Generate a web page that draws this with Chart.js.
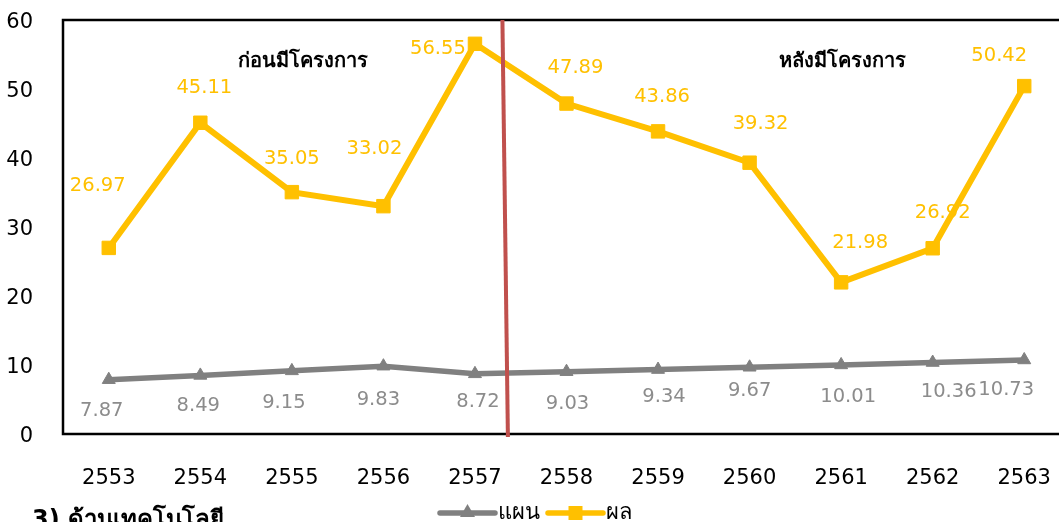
<!DOCTYPE html>
<html>
<head>
<meta charset="utf-8">
<script src="https://cdn.jsdelivr.net/npm/chart.js@4/dist/chart.umd.min.js"></script>
<style>
  html, body { margin: 0; padding: 0; background: #fff; overflow: hidden; width: 1059px; height: 522px; }
  #wrap { position: relative; width: 1080px; height: 522px; }
  canvas { display: block; }
  #caption { position: absolute; left: 32px; top: 505px; font: bold 24px "DejaVu Sans", "Noto Sans", sans-serif; color: #000; line-height: 28px; white-space: nowrap; }
</style>
</head>
<body>
<div id="wrap">
  <canvas id="c" width="1080" height="522"></canvas>
  <div id="caption">3) ด้านเทคโนโลยี</div>
</div>
<script>
const categories = ['2553','2554','2555','2556','2557','2558','2559','2560','2561','2562','2563'];
const planValues = [7.87, 8.49, 9.15, 9.83, 8.72, 9.03, 9.34, 9.67, 10.01, 10.36, 10.73];
const resultValues = [26.97, 45.11, 35.05, 33.02, 56.55, 47.89, 43.86, 39.32, 21.98, 26.92, 50.42];
const seriesNames = ['แผน', 'ผล'];
const periodNotes = ['ก่อนมีโครงการ', 'หลังมีโครงการ'];
const yTicks = [0, 10, 20, 30, 40, 50, 60];

// label offsets (style only), relative to each point
const planLabelOffsets = [[-7,31],[-2,31],[-8,32],[-5,34],[3,28],[1,32],[6,27],[0,24],[7,32],[16,29],[-18,30]];
const resultLabelOffsets = [[-11,-62],[4,-35],[0,-33],[-9,-57],[-37,5],[9,-36],[4,-34],[11,-39],[19,-39],[10,-35],[-25,-30]];

const FONT = '"DejaVu Sans", "Noto Sans", sans-serif';
const GRAY = '#808080';
const YELLOW = '#FFC000';
const RED = '#C0504D';

const decorPlugin = {
  id: 'decor',
  afterDatasetsDraw(chart) {
    const ctx = chart.ctx;
    const a = chart.chartArea;
    const xs = chart.scales.x, ys = chart.scales.y;
    ctx.save();
    // frame
    ctx.strokeStyle = '#000';
    ctx.lineWidth = 2.5;
    ctx.beginPath();
    ctx.moveTo(a.right, a.top); ctx.lineTo(a.left, a.top); ctx.lineTo(a.left, a.bottom); ctx.lineTo(a.right, a.bottom);
    ctx.stroke();
    // divider line between 2557 and 2558
    const step = xs.getPixelForValue(5) - xs.getPixelForValue(4);
    const x0 = xs.getPixelForValue(4);
    ctx.strokeStyle = RED;
    ctx.lineWidth = 4;
    ctx.beginPath();
    ctx.moveTo(x0 + step * 0.30, a.top);
    ctx.lineTo(x0 + step * 0.36, a.bottom + 3);
    ctx.stroke();
    // data labels
    ctx.font = '19.5px ' + FONT;
    ctx.textAlign = 'center';
    ctx.textBaseline = 'middle';
    const offs = [planLabelOffsets, resultLabelOffsets];
    const cols = ['#8c8c8c', YELLOW];
    chart.data.datasets.forEach((ds, di) => {
      const meta = chart.getDatasetMeta(di);
      ctx.fillStyle = cols[di];
      meta.data.forEach((pt, i) => {
        const o = offs[di][i];
        ctx.fillText(ds.data[i].toFixed(2), pt.x + o[0], pt.y + o[1]);
      });
    });
    // period notes
    ctx.fillStyle = '#000';
    ctx.font = 'bold 20px ' + FONT;
    ctx.fillText(periodNotes[0], xs.getPixelForValue(0) + step * 2.12, ys.getPixelForValue(54));
    ctx.fillText(periodNotes[1], xs.getPixelForValue(0) + step * 8.02, ys.getPixelForValue(54));
    ctx.restore();
  },
  afterDraw(chart) {
    const ctx = chart.ctx;
    ctx.save();
    const y = 513;
    const items = [
      {x: 440, color: GRAY, style: 'triangle', name: seriesNames[0]},
      {x: 548, color: YELLOW, style: 'rect', name: seriesNames[1]}
    ];
    ctx.font = '22px ' + FONT;
    ctx.textBaseline = 'middle';
    ctx.textAlign = 'left';
    items.forEach(it => {
      ctx.strokeStyle = it.color;
      ctx.lineWidth = 5.5;
      ctx.lineCap = 'round';
      ctx.beginPath(); ctx.moveTo(it.x, y); ctx.lineTo(it.x + 55, y); ctx.stroke();
      ctx.fillStyle = it.color;
      ctx.beginPath();
      if (it.style === 'rect') { ctx.rect(it.x + 27.5 - 7, y - 7, 14, 14); }
      else { ctx.moveTo(it.x + 27.5, y - 9); ctx.lineTo(it.x + 27.5 + 7.5, y + 4); ctx.lineTo(it.x + 27.5 - 7.5, y + 4); ctx.closePath(); }
      ctx.fill();
      ctx.fillStyle = '#000';
      ctx.fillText(it.name, it.x + 58, y);
    });
    ctx.restore();
  }
};

new Chart(document.getElementById('c'), {
  type: 'line',
  data: {
    labels: categories,
    datasets: [
      {
        label: seriesNames[0], data: planValues,
        borderColor: GRAY, backgroundColor: GRAY, borderWidth: 5.5,
        pointStyle: 'triangle', pointRadius: 7.5, pointBorderWidth: 1, pointHoverRadius: 7.5,
        tension: 0, clip: false
      },
      {
        label: seriesNames[1], data: resultValues,
        borderColor: YELLOW, backgroundColor: YELLOW, borderWidth: 6,
        pointStyle: 'rect', pointRadius: 9.5, pointBorderWidth: 1, pointHoverRadius: 9.5,
        tension: 0, clip: false
      }
    ]
  },
  options: {
    responsive: false,
    maintainAspectRatio: false,
    animation: false,
    devicePixelRatio: 1,
    layout: { autoPadding: false, padding: { top: 20, right: 10, bottom: 33, left: 0 } },
    plugins: { legend: { display: false }, title: { display: false }, tooltip: { enabled: false } },
    scales: {
      x: {
        type: 'category', offset: true,
        afterFit(s) { s.height = 55; s.paddingLeft = 0; s.paddingRight = 0; },
        grid: { display: false, drawTicks: false },
        border: { display: false },
        ticks: { color: '#000', font: { size: 21, family: FONT }, padding: 32, maxRotation: 0, autoSkip: false }
      },
      y: {
        min: yTicks[0], max: yTicks[yTicks.length - 1],
        afterBuildTicks(s) { s.ticks = yTicks.map(v => ({ value: v })); },
        afterFit(s) { s.width = 63; s.paddingTop = 0; s.paddingBottom = 0; },
        grid: { display: false, drawTicks: false },
        border: { display: false },
        ticks: { color: '#000', font: { size: 21, family: FONT }, padding: 30, labelOffset: 3 }
      }
    }
  },
  plugins: [decorPlugin]
});
</script>
</body>
</html>
